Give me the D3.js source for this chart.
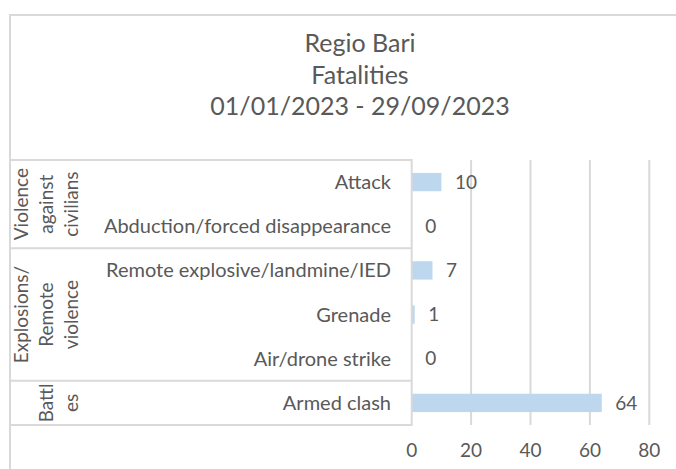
<!DOCTYPE html>
<html>
    <head>
        <meta charset="utf-8">
        <title>Regio Bari - Fatalities</title>
        <style>
            body { margin: 0; background: #fff; }
            text { font-family: Lato, "Open Sans", sans-serif; fill: #595959; }
        </style>
    </head>
    <body>
        <div id="chart"></div>

        <script src="https://d3js.org/d3.v7.min.js"></script>
        <script>
            // data
            var titleLines = ['Regio Bari', 'Fatalities', '01/01/2023 - 29/09/2023'];
            var groups = ['Violence against civilians', 'Explosions/ Remote violence', 'Battles'];
            var groupLines = [['Violence', 'against', 'civilians'], ['Explosions/', 'Remote', 'violence'], ['Battl', 'es']];
            var categories = ['Attack', 'Abduction/forced disappearance', 'Remote explosive/landmine/IED',
                'Grenade', 'Air/drone strike', 'Armed clash'];
            var categoryGroup = [0, 0, 1, 1, 1, 2];
            var values = [10, 0, 7, 1, 0, 64];
            var xTicks = [0, 20, 40, 60, 80];

            var width = 676, height = 469;
            var grey = '#d9d9d9';

            var svg = d3.select('#chart')
                .append('svg')
                .attr('width', width)
                .attr('height', height);

            // chart area border (runs off the right and bottom edge)
            svg.append('rect')
                .attr('x', 10)
                .attr('y', 15)
                .attr('width', 700)
                .attr('height', 500)
                .attr('fill', 'none')
                .attr('stroke', grey)
                .attr('stroke-width', 2);

            svg.append('g')
                .selectAll('text')
                .data(titleLines)
                .enter()
                .append('text')
                .attr('x', 360)
                .attr('y', function (d, i) { return 52 + i * 31.6; })
                .attr('text-anchor', 'middle')
                .style('font-size', '25px')
                .text(function (d) { return d; });

            var x = d3.scaleLinear()
                .domain([0, 80])
                .range([411.7, 649.3]);

            var y = d3.scaleBand()
                .domain(categories)
                .range([160, 425])
                .paddingInner(0.585)
                .paddingOuter(0.2925);

            var step = y.step();
            var top0 = 160;

            // gridlines
            svg.append('g')
                .selectAll('line')
                .data(xTicks.slice(1))
                .enter()
                .append('line')
                .attr('x1', function (d) { return x(d); })
                .attr('x2', function (d) { return x(d); })
                .attr('y1', 160)
                .attr('y2', 425)
                .attr('stroke', grey)
                .attr('stroke-width', 2);

            // bars
            svg.append('g')
                .selectAll('rect')
                .data(values)
                .enter()
                .append('rect')
                .attr('x', x(0))
                .attr('y', function (d, i) { return y(categories[i]); })
                .attr('width', function (d) { return x(d) - x(0); })
                .attr('height', y.bandwidth())
                .attr('fill', '#bdd7ee');

            // data labels
            svg.append('g')
                .selectAll('text')
                .data(values)
                .enter()
                .append('text')
                .attr('x', function (d) { return x(d) + 13.5; })
                .attr('y', function (d, i) { return y(categories[i]) + y.bandwidth() / 2; })
                .attr('dy', '0.35em')
                .style('font-size', '19px')
                .text(function (d) { return d; });

            // value axis labels
            svg.append('g')
                .selectAll('text')
                .data(xTicks)
                .enter()
                .append('text')
                .attr('x', function (d) { return x(d); })
                .attr('y', 457)
                .attr('text-anchor', 'middle')
                .style('font-size', '19px')
                .text(function (d) { return d; });

            // multi-level category axis box
            var groupStart = groups.map(function (g, gi) { return categoryGroup.indexOf(gi); });
            var groupEnd = groups.map(function (g, gi) { return categoryGroup.lastIndexOf(gi) + 1; });
            var seps = groupStart.concat([categories.length]);

            svg.append('g')
                .selectAll('line')
                .data(seps)
                .enter()
                .append('line')
                .attr('x1', 10)
                .attr('x2', x(0))
                .attr('y1', function (d) { return top0 + d * step; })
                .attr('y2', function (d) { return top0 + d * step; })
                .attr('stroke', grey)
                .attr('stroke-width', 2);

            svg.append('line')
                .attr('x1', x(0))
                .attr('x2', x(0))
                .attr('y1', 159)
                .attr('y2', 426)
                .attr('stroke', grey)
                .attr('stroke-width', 2);

            // category labels
            svg.append('g')
                .selectAll('text')
                .data(categories)
                .enter()
                .append('text')
                .attr('x', 391)
                .attr('y', function (d) { return y(d) + y.bandwidth() / 2; })
                .attr('dy', '0.35em')
                .attr('text-anchor', 'end')
                .style('font-size', '20px')
                .text(function (d) { return d; });

            // group labels, rotated, lines stacked toward the right edge
            groups.forEach(function (g, gi) {
                var cy = top0 + (groupStart[gi] + groupEnd[gi]) / 2 * step;
                var lines = groupLines[gi];
                lines.forEach(function (line, li) {
                    var cx = 71 - (lines.length - 1 - li) * 25;
                    svg.append('text')
                        .attr('transform', 'translate(' + cx + ',' + cy + ') rotate(-90)')
                        .attr('text-anchor', 'middle')
                        .attr('dy', '0.35em')
                        .style('font-size', '19px')
                        .text(line);
                });
            });
        </script>
    </body>
</html>
